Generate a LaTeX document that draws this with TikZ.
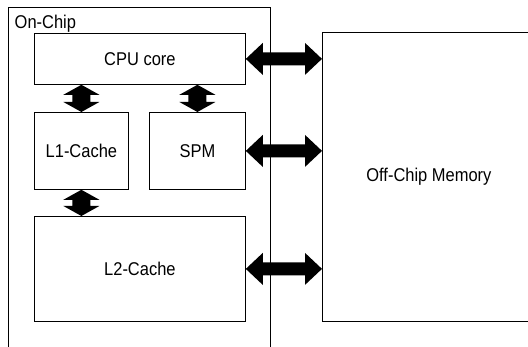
\documentclass[tikz,border=0pt]{standalone}
\usepackage{fontspec}
\setmainfont{Liberation Sans}[FakeStretch=0.89]
\usetikzlibrary{calc}
\tikzset{
  blk/.style={draw, line width=0.8pt, inner sep=0pt, anchor=north west,
    font=\fontsize{18.5}{20}\selectfont},
  frame/.style={draw, line width=0.8pt},
  arrowfill/.style={fill=black},
}
\newcommand\hbiarrow[2]{%
  \fill[arrowfill] let \p1=(#1), \p2=(#2) in
  (\x1,\y1) -- (\x1+17pt,\y1+16pt) -- (\x1+17pt,\y1+6.5pt) -- (\x2-17pt,\y1+6.5pt)
  -- (\x2-17pt,\y1+16pt) -- (\x2,\y1) -- (\x2-17pt,\y1-16pt) -- (\x2-17pt,\y1-6.5pt)
  -- (\x1+17pt,\y1-6.5pt) -- (\x1+17pt,\y1-16pt) -- cycle;}
\newcommand\vbiarrow[2]{%
  \fill[arrowfill] let \p1=(#1), \p2=(#2) in
  (\x1,\y1) -- (\x1+18pt,\y1-10pt) -- (\x1+9pt,\y1-10pt) -- (\x1+9pt,\y2+10pt)
  -- (\x1+18pt,\y2+10pt) -- (\x1,\y2) -- (\x1-18pt,\y2+10pt) -- (\x1-9pt,\y2+10pt)
  -- (\x1-9pt,\y1-10pt) -- (\x1-18pt,\y1-10pt) -- cycle;}
\begin{document}
\begin{tikzpicture}[x=1pt,y=-1pt]
  \path[use as bounding box, clip] (0,0) rectangle (528,347);
  \fill[white] (0,0) rectangle (528,347);
  % On-chip container
  \draw[frame] (8,352) -- (8,7) -- (270,7) -- (270,352);
  \node[anchor=base west, inner sep=0pt, font=\fontsize{18.5}{20}\selectfont] (onchip) at (14.5,28.5) {On-Chip};
  % blocks
  \node[blk, minimum width=211pt, minimum height=51pt] (cpu) at (34,33) {CPU core};
  \node[blk, minimum width=94pt, minimum height=77pt] (l1) at (34,112) {L1-Cache};
  \node[blk, minimum width=96pt, minimum height=77pt] (spm) at (149,112) {SPM};
  \node[blk, minimum width=211pt, minimum height=105pt] (l2) at (34,216) {L2-Cache};
  \node[blk, minimum width=213pt, minimum height=289pt] (mem) at (322,32) {Off-Chip Memory};
  % vertical arrows
  \vbiarrow{cpu.south -| l1.north}{l1.north}
  \vbiarrow{cpu.south -| spm.north}{spm.north}
  \vbiarrow{l1.south}{l2.north -| l1.south}
  % horizontal arrows
  \hbiarrow{cpu.east}{cpu.east -| mem.west}
  \hbiarrow{spm.east}{spm.east -| mem.west}
  \hbiarrow{l2.east}{l2.east -| mem.west}
\end{tikzpicture}
\end{document}
